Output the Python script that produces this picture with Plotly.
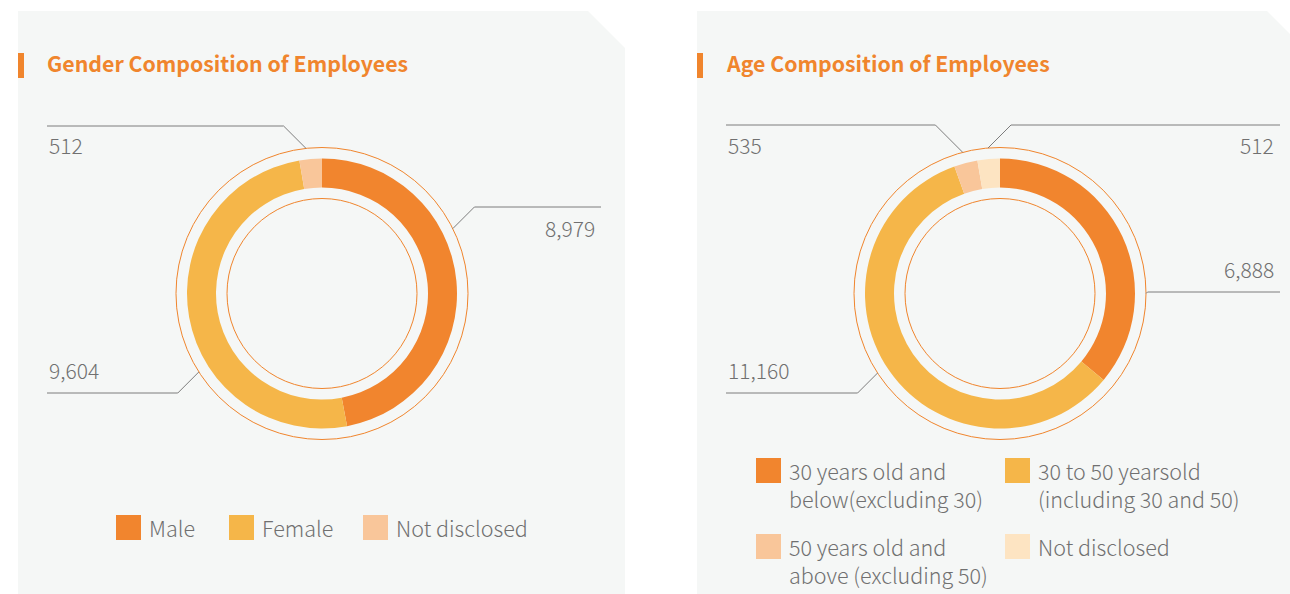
import math
import plotly.graph_objects as go

W, H = 1290, 594

# ---- data ----
gender_labels = ["Male", "Female", "Not disclosed"]
gender_values = [8979, 9604, 512]
gender_colors = ["#f1852e", "#f5b649", "#f9c69a"]

age_labels = ["30 years old and<br>below(excluding 30)",
              "30 to 50 yearsold<br>(including 30 and 50)",
              "50 years old and<br>above (excluding 50)",
              "Not disclosed"]
age_values = [6888, 11160, 535, 512]
age_colors = ["#f1852e", "#f5b649", "#f9c69a", "#fde4c2"]

titles = ["Gender Composition of Employees", "Age Composition of Employees"]

ORANGE = "#f0852d"
PANEL = "#f5f7f6"
GRAY_LINE = "#7d7d7d"
TEXT = "#707070"
FONT = "Noto Sans CJK SC"

# ring geometry (pixels)
R_OUT_LINE, R_BAND_OUT, R_BAND_IN, R_IN_LINE = 146, 135, 106, 95
centers = [(322, 293.5), (1000, 293.5)]
panel_left = [18, 697]

fig = go.Figure()
shapes, annos = [], []

# panels with a clipped top-right corner
for x0 in panel_left:
    w, cut, top = 607, 37, 11
    shapes.append(dict(type="path", xref="x", yref="y", layer="below",
                       path=f"M {x0},{top} L {x0 + w - cut},{top} L {x0 + w},{top + cut} "
                            f"L {x0 + w},{H} L {x0},{H} Z",
                       fillcolor=PANEL, line=dict(width=0)))

# titles with accent bar
for x0, t in zip(panel_left, titles):
    shapes.append(dict(type="rect", xref="x", yref="y", x0=x0, x1=x0 + 6, y0=53, y1=78,
                       fillcolor=ORANGE, line=dict(width=0)))
    annos.append(dict(x=x0 + 27, y=62, xref="x", yref="y", text=t, showarrow=False,
                      xanchor="left", yanchor="middle",
                      font=dict(family=FONT, size=21.3, color=ORANGE, weight="bold")))


def add_donut(values, labels, colors, center):
    cx, cy = center
    fig.add_trace(go.Pie(
        values=values, labels=labels, sort=False, direction="clockwise", rotation=0,
        hole=R_BAND_IN / R_BAND_OUT, textinfo="none", hoverinfo="label+value",
        marker=dict(colors=colors, line=dict(width=0)), showlegend=False,
        domain=dict(x=[(cx - R_BAND_OUT) / W, (cx + R_BAND_OUT) / W],
                    y=[(H - cy - R_BAND_OUT) / H, (H - cy + R_BAND_OUT) / H])))
    for r in (R_OUT_LINE, R_IN_LINE):
        shapes.append(dict(type="circle", xref="x", yref="y",
                           x0=cx - r, x1=cx + r, y0=cy - r, y1=cy + r,
                           line=dict(color=ORANGE, width=1)))


add_donut(gender_values, gender_labels, gender_colors, centers[0])
add_donut(age_values, age_labels, age_colors, centers[1])


def leader(center, angle_deg, elbow_y, end_x, value, label_y, side):
    """Callout line from the outer ring out to a horizontal rule with a value label."""
    cx, cy = center
    a = math.radians(angle_deg)
    px, py = cx + R_OUT_LINE * math.sin(a), cy - R_OUT_LINE * math.cos(a)
    dy = abs(elbow_y - py)
    ex = px + dy if end_x > px else px - dy
    if abs(elbow_y - py) < 1:
        ex = px
    shapes.append(dict(type="path", xref="x", yref="y",
                       path=f"M {px:.1f},{py:.1f} L {ex:.1f},{elbow_y} L {end_x},{elbow_y}",
                       line=dict(color=GRAY_LINE, width=1)))
    if side == "left":
        lx, anchor = end_x, "left"
    else:
        lx, anchor = end_x - 4, "right"
    annos.append(dict(x=lx, y=label_y, xref="x", yref="y", text=f"{value:,}",
                      showarrow=False, xanchor=anchor, yanchor="middle",
                      font=dict(family=FONT, size=21, color=TEXT, weight=300)))


# gender callouts
leader(centers[0], -6.3, 126, 47, gender_values[2], 145, "left")
leader(centers[0], 63.6, 207, 601, gender_values[0], 228, "right")
leader(centers[0], 237.5, 393, 47, gender_values[1], 370, "left")
# age callouts
leader(centers[1], -14.8, 125, 726, age_values[2], 145, "left")
leader(centers[1], -4.7, 125, 1280, age_values[3], 145, "right")
leader(centers[1], 90, 292, 1280, age_values[0], 269, "right")
leader(centers[1], 237, 393, 726, age_values[1], 370, "left")


def swatch(x, y, color, text):
    shapes.append(dict(type="rect", xref="x", yref="y", x0=x, x1=x + 25, y0=y, y1=y + 25,
                       fillcolor=color, line=dict(width=0)))
    annos.append(dict(x=x + 31, y=y - 5, xref="x", yref="y", text=text, showarrow=False,
                      xanchor="left", yanchor="top", align="left",
                      font=dict(family=FONT, size=21.5, color=TEXT, weight=300)))


# gender legend (one row)
for x, c, t in zip([116, 229, 363], gender_colors, gender_labels):
    swatch(x, 515, c, t)
# age legend (2 x 2 grid)
for (x, y), c, t in zip([(756, 458), (1005, 458), (756, 534), (1005, 534)], age_colors, age_labels):
    swatch(x, y, c, t)

fig.update_layout(
    width=W, height=H, autosize=False,
    margin=dict(l=0, r=0, t=0, b=0),
    paper_bgcolor="white", plot_bgcolor="rgba(0,0,0,0)",
    xaxis=dict(range=[0, W], visible=False, fixedrange=True),
    yaxis=dict(range=[H, 0], visible=False, fixedrange=True),
    shapes=shapes, annotations=annos,
)

fig.write_html("out.html")
